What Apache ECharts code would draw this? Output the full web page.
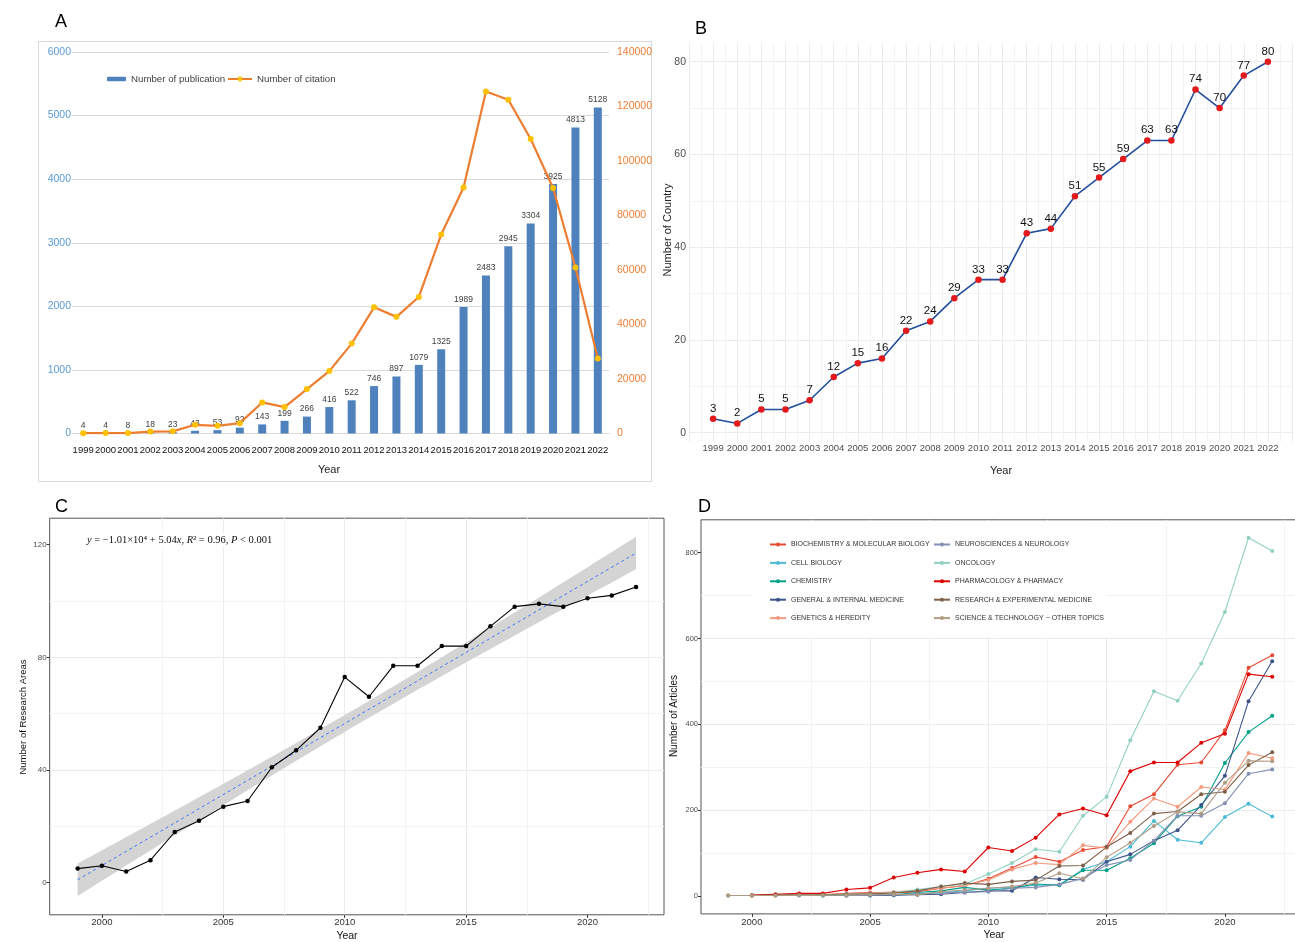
<!DOCTYPE html>
<html>
<head>
<meta charset="utf-8">
<script src="https://cdn.jsdelivr.net/npm/echarts@6/dist/echarts.min.js"></script>
<style>
html,body{margin:0;padding:0;background:#fff;}
#c{width:1295px;height:942px;}
</style>
</head>
<body>
<div id="c"></div>
<script>
// ---------- DATA ----------
const yearsA = ['1999','2000','2001','2002','2003','2004','2005','2006','2007','2008','2009','2010','2011','2012','2013','2014','2015','2016','2017','2018','2019','2020','2021','2022'];
const publications = [4,4,8,18,23,43,53,92,143,199,266,416,522,746,897,1079,1325,1989,2483,2945,3304,3925,4813,5128];
const citations = [120,150,160,700,800,3200,2800,3800,11400,9700,16300,22900,33000,46300,42800,50100,73000,90300,125500,122500,108100,90100,60900,27500];

const years = [1999,2000,2001,2002,2003,2004,2005,2006,2007,2008,2009,2010,2011,2012,2013,2014,2015,2016,2017,2018,2019,2020,2021,2022];
const countries = [3,2,5,5,7,12,15,16,22,24,29,33,33,43,44,51,55,59,63,63,74,70,77,80];
const researchAreas = [5,6,4,8,18,22,27,29,41,47,55,73,66,77,77,84,84,91,98,99,98,101,102,105];

const ticksC_x = [2000,2005,2010,2015,2020];
const ticksC_y = [0,40,80,120];
const ticksD_y = [0,200,400,600,800];

const areaNames = ['BIOCHEMISTRY & MOLECULAR BIOLOGY','CELL BIOLOGY','CHEMISTRY','GENERAL & INTERNAL MEDICINE','GENETICS & HEREDITY','NEUROSCIENCES & NEUROLOGY','ONCOLOGY','PHARMACOLOGY & PHARMACY','RESEARCH & EXPERIMENTAL MEDICINE','SCIENCE & TECHNOLOGY \u2212 OTHER TOPICS'];
const biochem      = [null,1,2,3,3,6,8,7,10,18,24,40,65,91,80,107,115,209,237,306,311,386,532,561];
const cellBiology  = [null,null,null,1,1,1,1,2,5,8,12,18,20,25,26,62,80,115,175,131,124,184,215,185];
const chemistry    = [null,null,null,null,1,2,3,3,8,12,20,14,18,28,25,60,60,88,123,186,208,310,382,420];
const generalMed   = [null,null,null,null,null,1,1,2,3,4,8,12,12,43,39,38,80,97,129,153,212,280,454,547];
const genetics     = [null,null,1,2,3,5,7,10,13,18,25,37,62,77,73,118,112,173,227,208,254,248,333,321];
const neuro        = [null,null,null,null,null,1,2,3,5,7,9,10,18,20,27,41,72,84,129,187,187,216,285,295];
const oncology     = [null,1,1,2,3,4,5,8,15,22,28,51,77,109,103,187,231,363,477,455,542,662,835,804];
const pharmacology = [null,2,4,6,6,15,19,43,54,62,57,113,105,136,190,204,188,291,311,311,357,378,517,511];
const researchExp  = [1,1,2,3,3,4,5,7,12,22,30,27,34,37,70,71,114,147,192,197,237,243,305,335];
const sciTech      = [1,1,1,2,2,2,3,4,3,10,14,18,22,30,53,40,90,124,163,196,192,264,315,314];
const areaValues = [biochem,cellBiology,chemistry,generalMed,genetics,neuro,oncology,pharmacology,researchExp,sciTech];
const areaColors = ['#E64B35','#4DBBD5','#00A087','#3C5488','#F39B7F','#8491B4','#91D1C2','#DC0000','#7E6148','#B09C85'];

// ---------- linear fit for panel C ----------
const n = years.length;
const xbar = years.reduce((a,b)=>a+b,0)/n;
const ybar = researchAreas.reduce((a,b)=>a+b,0)/n;
let Sxx=0,Sxy=0;
years.forEach((x,i)=>{Sxx+=(x-xbar)*(x-xbar);Sxy+=(x-xbar)*(researchAreas[i]-ybar);});
const slope = Sxy/Sxx, intercept = ybar - slope*xbar;
let sse=0; years.forEach((x,i)=>{const r=researchAreas[i]-(intercept+slope*x); sse+=r*r;});
const sres = Math.sqrt(sse/(n-2));
const tval = 2.074;
const bandUpper=[], bandLower=[];
for(let x=years[0]; x<=years[n-1]+1e-9; x+=0.25){
  const f=intercept+slope*x;
  const h=tval*sres*Math.sqrt(1/n+(x-xbar)*(x-xbar)/Sxx);
  bandUpper.push([x,f+h]); bandLower.push([x,f-h]);
}
const fitLine = [[years[0], intercept+slope*years[0]],[years[n-1], intercept+slope*years[n-1]]];

// ---------- chart ----------
const FONT = "'Liberation Sans', Arial, sans-serif";
const chart = echarts.init(document.getElementById('c'));
const ggGrid = {lineStyle:{color:'#EBEBEB',width:1}};
const ggMinor = {show:true, lineStyle:{color:'#F3F3F3',width:1}};

const dSeries = areaNames.map((name,k)=>({
  name:name, type:'line', xAxisIndex:3, yAxisIndex:4,
  data: years.map((y,i)=>[y, areaValues[k][i]]).filter(p=>p[1]!==null),
  symbol:'circle', symbolSize:4, showSymbol:true,
  lineStyle:{color:areaColors[k], width:1.1},
  itemStyle:{color:areaColors[k]},
  z:3
}));

const option = {
  animation:false,
  textStyle:{fontFamily:FONT},
  grid:[
    {left:72, top:52, width:537, height:381.5, outerBoundsMode:'none'},
    {left:689, top:43.6, width:603, height:397.9, outerBoundsMode:'none'},
    {left:49.7, top:518.2, width:614.3, height:396.6, outerBoundsMode:'none', show:true, borderColor:'#555', borderWidth:1, backgroundColor:'transparent'},
    {left:701, top:519.8, width:598.4, height:394.1, outerBoundsMode:'none', show:true, borderColor:'#555', borderWidth:1, backgroundColor:'transparent'}
  ],
  legend:[
    {data:['Number of publication'], left:102, top:69, itemWidth:19, itemHeight:4.5, itemGap:4, textStyle:{fontSize:9.7, color:'#404040', fontFamily:FONT}},
    {data:['Number of citation'], left:222, top:69, itemWidth:24, itemHeight:6, textStyle:{fontSize:9.7, color:'#404040', fontFamily:FONT}},
    {data:areaNames.slice(0,5), left:764, top:536, orient:'vertical', itemWidth:16, itemHeight:5, itemGap:11.4, textStyle:{fontSize:7, color:'#333', fontFamily:FONT}},
    {data:areaNames.slice(5), left:928, top:536, orient:'vertical', itemWidth:16, itemHeight:5, itemGap:11.4, textStyle:{fontSize:7, color:'#333', fontFamily:FONT}}
  ],
  xAxis:[
    {type:'category', gridIndex:0, data:yearsA, axisLine:{show:true, lineStyle:{color:'#D9D9D9'}}, axisTick:{show:false},
     axisLabel:{interval:0, fontSize:9.5, color:'#111', margin:12}},
    {type:'value', gridIndex:1, min:1998, max:2023, minInterval:1, maxInterval:1, axisLine:{show:false, onZero:false}, axisTick:{show:false},
     axisLabel:{fontSize:9.5, color:'#4D4D4D', margin:2, formatter:v=>(v>=1999&&v<=2022&&Number.isInteger(v))?String(v):''},
     splitLine:ggGrid, minorTick:{show:false, splitNumber:2}, minorSplitLine:ggMinor},
    {type:'value', gridIndex:2, min:1997.85, max:2023.15, minInterval:5, maxInterval:5, axisLine:{show:false, onZero:false},
     axisTick:{show:true, length:3, lineStyle:{color:'#333'}, customValues:ticksC_x},
     axisLabel:{fontSize:9.5, color:'#333', margin:3, customValues:ticksC_x, formatter:v=>String(v)},
     splitLine:Object.assign({showMinLine:false, showMaxLine:false}, ggGrid), minorTick:{show:false, splitNumber:2}, minorSplitLine:ggMinor},
    {type:'value', gridIndex:3, min:1997.85, max:2023.15, minInterval:5, maxInterval:5, axisLine:{show:false, onZero:false},
     axisTick:{show:true, length:3, lineStyle:{color:'#333'}, customValues:ticksC_x},
     axisLabel:{fontSize:9.5, color:'#333', margin:3, customValues:ticksC_x, formatter:v=>String(v)},
     splitLine:Object.assign({showMinLine:false, showMaxLine:false}, ggGrid), minorTick:{show:false, splitNumber:2}, minorSplitLine:ggMinor}
  ],
  yAxis:[
    {type:'value', gridIndex:0, min:0, max:6000, interval:1000, axisLine:{show:false}, axisTick:{show:false},
     axisLabel:{fontSize:10.5, color:'#5B9BD5', margin:1, formatter:v=>String(v)}, splitLine:{lineStyle:{color:'#D9D9D9',width:1}}},
    {type:'value', gridIndex:0, position:'right', min:0, max:140000, interval:20000, axisLine:{show:false}, axisTick:{show:false},
     axisLabel:{fontSize:10.5, color:'#ED7D31', margin:8, formatter:v=>String(v)}, splitLine:{show:false}},
    {type:'value', gridIndex:1, min:-1.9, max:83.9, minInterval:20, maxInterval:20, axisLine:{show:false, onZero:false}, axisTick:{show:false},
     axisLabel:{fontSize:10.5, color:'#4D4D4D', margin:3, formatter:v=>(Math.abs(v%20)<1e-6)?String(v):''},
     splitLine:Object.assign({showMinLine:false, showMaxLine:false}, ggGrid), minorTick:{show:false, splitNumber:2}, minorSplitLine:ggMinor},
    {type:'value', gridIndex:2, min:-11.4, max:129.4, minInterval:40, maxInterval:40, axisLine:{show:false, onZero:false},
     axisTick:{show:true, length:3, lineStyle:{color:'#333'}, customValues:ticksC_y},
     axisLabel:{fontSize:8, color:'#4D4D4D', margin:3, customValues:ticksC_y, formatter:v=>String(v)},
     splitLine:Object.assign({showMinLine:false, showMaxLine:false}, ggGrid), minorTick:{show:false, splitNumber:2}, minorSplitLine:ggMinor},
    {type:'value', gridIndex:3, min:-41.75, max:876.75, minInterval:200, maxInterval:200, axisLine:{show:false, onZero:false},
     axisTick:{show:true, length:3, lineStyle:{color:'#333'}, customValues:ticksD_y},
     axisLabel:{fontSize:7.5, color:'#4D4D4D', margin:3, customValues:ticksD_y, formatter:v=>String(v)},
     splitLine:Object.assign({showMinLine:false, showMaxLine:false}, ggGrid), minorTick:{show:false, splitNumber:2}, minorSplitLine:ggMinor}
  ],
  series:[
    {name:'Number of publication', type:'bar', xAxisIndex:0, yAxisIndex:0, data:publications, barWidth:8,
     itemStyle:{color:'#4F81BD'}, label:{show:true, position:'top', distance:3, fontSize:8.5, color:'#404040'}},
    {name:'Number of citation', type:'line', xAxisIndex:0, yAxisIndex:1, data:citations,
     symbol:'circle', symbolSize:6, lineStyle:{color:'#ED7D31', width:2.2}, itemStyle:{color:'#FFC000'}, z:4},
    {name:'Countries', type:'line', xAxisIndex:1, yAxisIndex:2, data:years.map((y,i)=>[y,countries[i]]),
     symbol:'circle', symbolSize:6.5, lineStyle:{color:'#234E9C', width:1.6}, itemStyle:{color:'#E31A1C'},
     label:{show:true, position:'top', distance:1, fontSize:11.5, color:'#111'}},
    {name:'band', type:'custom', xAxisIndex:2, yAxisIndex:3, data:[[2010,50]], silent:true, z:1,
     renderItem:function(params, api){
       const pts=[];
       bandUpper.forEach(p=>pts.push(api.coord(p)));
       for(let i=bandLower.length-1;i>=0;i--) pts.push(api.coord(bandLower[i]));
       return {type:'polygon', shape:{points:pts}, style:{fill:'#D4D4D4'}};
     }},
    {name:'fit', type:'line', xAxisIndex:2, yAxisIndex:3, data:fitLine, symbol:'none',
     lineStyle:{color:'#3366FF', width:0.9, type:[3,3]}, z:2},
    {name:'Research Areas', type:'line', xAxisIndex:2, yAxisIndex:3, data:years.map((y,i)=>[y,researchAreas[i]]),
     symbol:'circle', symbolSize:4.5, lineStyle:{color:'#000', width:1.1}, itemStyle:{color:'#000'}, z:3}
  ].concat(dSeries),
  graphic:[
    {type:'rect', shape:{x:38.5, y:41.5, width:613, height:440}, style:{fill:'none', stroke:'#D9D9D9', lineWidth:1}, z:0},
    {type:'rect', shape:{x:752, y:521, width:355, height:116}, style:{fill:'#fff'}, z:1},
    {type:'text', x:55, y:13, style:{text:'A', fontSize:18, fill:'#000', fontFamily:FONT}, z:5},
    {type:'text', x:695, y:20, style:{text:'B', fontSize:18, fill:'#000', fontFamily:FONT}, z:5},
    {type:'text', x:55, y:498, style:{text:'C', fontSize:18, fill:'#000', fontFamily:FONT}, z:5},
    {type:'text', x:698, y:498, style:{text:'D', fontSize:18, fill:'#000', fontFamily:FONT}, z:5},
    {type:'text', x:329, y:470, style:{text:'Year', fontSize:11, fill:'#222', align:'center', verticalAlign:'middle', fontFamily:FONT}, z:5},
    {type:'text', x:1001, y:471, style:{text:'Year', fontSize:11, fill:'#222', align:'center', verticalAlign:'middle', fontFamily:FONT}, z:5},
    {type:'text', x:668, y:230, rotation:Math.PI/2, style:{text:'Number of Country', fontSize:11, fill:'#222', align:'center', verticalAlign:'middle', fontFamily:FONT}, z:5},
    {type:'text', x:347, y:936, style:{text:'Year', fontSize:10.5, fill:'#111', align:'center', verticalAlign:'middle', fontFamily:FONT}, z:5},
    {type:'text', x:23, y:717, rotation:Math.PI/2, style:{text:'Number of Research Areas', fontSize:9.5, fill:'#111', align:'center', verticalAlign:'middle', fontFamily:FONT}, z:5},
    {type:'text', x:994, y:935, style:{text:'Year', fontSize:10.5, fill:'#111', align:'center', verticalAlign:'middle', fontFamily:FONT}, z:5},
    {type:'text', x:674, y:716, rotation:Math.PI/2, style:{text:'Number of Articles', fontSize:10, fill:'#111', align:'center', verticalAlign:'middle', fontFamily:FONT}, z:5},
    {type:'text', x:84, y:540, z:5, style:{
      text:'{i|y} = \u22121.01\u00d710\u2074 + 5.04{i|x}, {i|R}\u00b2 = 0.96, {i|P} < 0.001',
      fontSize:10.5, fill:'#111', fontFamily:"'Liberation Serif', 'Times New Roman', serif", verticalAlign:'middle',
      backgroundColor:'#fff', padding:[1,3],
      rich:{i:{fontStyle:'italic', fontSize:10.5, fontFamily:"'Liberation Serif', 'Times New Roman', serif"}}
    }}
  ]
};
chart.setOption(option);
</script>
</body>
</html>
